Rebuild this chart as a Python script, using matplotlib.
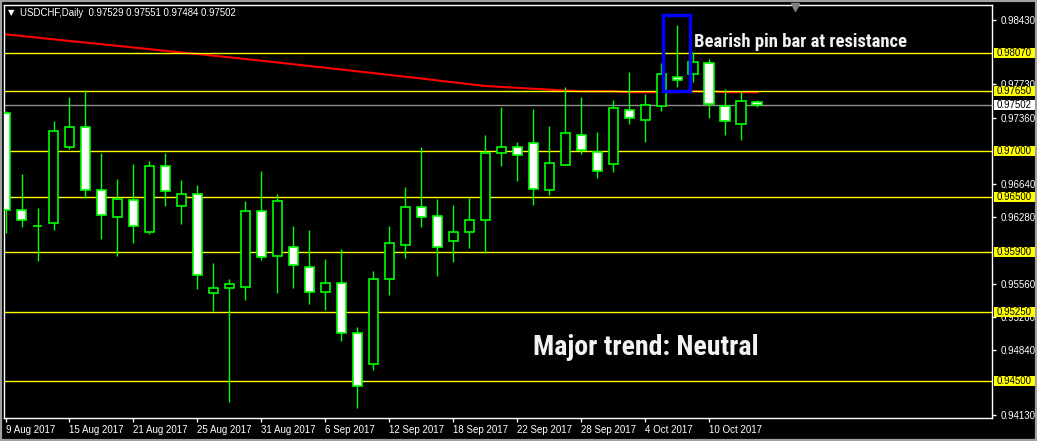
import matplotlib
matplotlib.use("Agg")
import matplotlib.pyplot as plt
from matplotlib import font_manager
from matplotlib.patches import Rectangle

# USDCHF daily bars, 9 Aug - 13 Oct 2017
opens = [0.97411, 0.96358, 0.96184, 0.96216, 0.97042, 0.97259, 0.96575, 0.96282, 0.96466, 0.96119,
         0.96836, 0.96401, 0.96531, 0.95456, 0.95511, 0.95530, 0.96347, 0.95858, 0.95956, 0.95739,
         0.95467, 0.95565, 0.95022, 0.94685, 0.95608, 0.95978, 0.96390, 0.96293, 0.96021, 0.96119,
         0.96249, 0.96977, 0.97042, 0.97085, 0.96575, 0.96846, 0.97172, 0.96988, 0.96857, 0.97444,
         0.97335, 0.97487, 0.97802, 0.97835, 0.97954, 0.97494, 0.97292, 0.97529]
highs = [0.97436, 0.96752, 0.96383, 0.97327, 0.97588, 0.97664, 0.96980, 0.96698, 0.96861, 0.96893,
         0.96980, 0.96687, 0.96629, 0.95785, 0.95612, 0.96459, 0.96784, 0.96535, 0.96187, 0.96144,
         0.95829, 0.95937, 0.95090, 0.95699, 0.96187, 0.96611, 0.97045, 0.96480, 0.96415, 0.96491,
         0.97175, 0.97480, 0.97099, 0.97458, 0.97273, 0.97697, 0.97588, 0.97208, 0.97556, 0.97860,
         0.97621, 0.97961, 0.98370, 0.98074, 0.97998, 0.97672, 0.97650, 0.97551]
lows = [0.96114, 0.96180, 0.95810, 0.96147, 0.97020, 0.96488, 0.96049, 0.95865, 0.96006, 0.96104,
        0.96408, 0.96206, 0.95500, 0.95267, 0.94279, 0.95389, 0.95821, 0.95463, 0.95517, 0.95343,
        0.95278, 0.94942, 0.94214, 0.94627, 0.95441, 0.95843, 0.96180, 0.95647, 0.95800, 0.95952,
        0.95891, 0.96842, 0.96679, 0.96418, 0.96527, 0.96846, 0.96972, 0.96705, 0.96770, 0.97292,
        0.97096, 0.97433, 0.97700, 0.97748, 0.97357, 0.97172, 0.97118, 0.97484]
closes = [0.96361, 0.96249, 0.96184, 0.97216, 0.97259, 0.96575, 0.96303, 0.96477, 0.96184, 0.96836,
          0.96564, 0.96531, 0.95652, 0.95511, 0.95554, 0.96347, 0.95847, 0.96455, 0.95760, 0.95467,
          0.95565, 0.95022, 0.94446, 0.95608, 0.95999, 0.96390, 0.96282, 0.95956, 0.96119, 0.96249,
          0.96977, 0.97042, 0.96955, 0.96586, 0.96868, 0.97194, 0.97009, 0.96781, 0.97465, 0.97357,
          0.97498, 0.97835, 0.97770, 0.97965, 0.97509, 0.97324, 0.97541, 0.97502]
ma = [0.98269, 0.98251, 0.98233, 0.98215, 0.98197, 0.98180, 0.98162, 0.98144, 0.98126, 0.98108,
      0.98090, 0.98072, 0.98055, 0.98037, 0.98019, 0.98001, 0.97982, 0.97963, 0.97944, 0.97925,
      0.97906, 0.97887, 0.97867, 0.97848, 0.97828, 0.97808, 0.97789, 0.97768, 0.97748, 0.97728,
      0.97708, 0.97698, 0.97688, 0.97678, 0.97668, 0.97659, 0.97650, 0.97650, 0.97650, 0.97640,
      0.97640, 0.97640, 0.97640, 0.97650, 0.97650, 0.97640, 0.97640, 0.97640]

levels = [0.98070, 0.97650, 0.97000, 0.96500, 0.95900, 0.95250, 0.94500]
bid = 0.97502
price_ticks = [0.98430, 0.97730, 0.97360, 0.96640, 0.96280, 0.95560, 0.95200, 0.94840, 0.94130]
date_bars = [0, 4, 8, 12, 16, 20, 24, 28, 32, 36, 40, 44]
date_labels = ["9 Aug 2017", "15 Aug 2017", "21 Aug 2017", "25 Aug 2017", "31 Aug 2017", "6 Sep 2017",
               "12 Sep 2017", "18 Sep 2017", "22 Sep 2017", "28 Sep 2017", "4 Oct 2017", "10 Oct 2017"]
pin_box = (41.08, 42.8, 0.97650, 0.98475)

W, H = 1037, 441
fig = plt.figure(figsize=(W / 100, H / 100), dpi=100, facecolor="black")
ax = fig.add_axes([4 / W, (H - 418.3) / H, 988 / W, 413.8 / H], facecolor="black")

lime = "#00ff00"
installed = {f.name for f in font_manager.fontManager.ttflist}
narrow = "Liberation Sans"
for name in ["Liberation Sans Narrow", "Roboto Condensed", "Open Sans Condensed", "DejaVu Sans Condensed"]:
    if name in installed:
        narrow = name
        break

ax.plot(range(len(ma)), ma, color="#ff0000", lw=1.5, zorder=1)
for lv in levels:
    ax.axhline(lv, color="#ffff00", lw=1, zorder=2)
ax.axhline(bid, color="#909090", lw=1, zorder=2)

for i in range(len(opens)):
    o, h, l, c = opens[i], highs[i], lows[i], closes[i]
    ax.vlines(i, l, h, color=lime, lw=1, zorder=3)
    fill = "white" if c < o else "black"
    ax.add_patch(Rectangle((i - 0.31, min(o, c)), 0.62, abs(c - o), facecolor=fill,
                           edgecolor=lime, lw=1.2, zorder=4))

x0, x1, y0, y1 = pin_box
ax.add_patch(Rectangle((x0, y0), x1 - x0, y1 - y0, fill=False, edgecolor="#0000ff", lw=2.5, zorder=5))

t1 = ax.text(43.03, 0.98128, "Bearish pin bar at resistance", color="#f2f2f2", fontsize=13.5,
             fontweight="bold", family=narrow, va="baseline", ha="left", zorder=6)
t2 = ax.text(32.97, 0.94786, "Major trend: Neutral", color="#f2f2f2", fontsize=20,
             fontweight="bold", family=narrow, va="baseline", ha="left", zorder=6)

ax.set_xlim(-0.094, 61.66)
ax.set_ylim(0.94099, 0.98593)

for s in ax.spines.values():
    s.set_color("white")
    s.set_linewidth(1)

ax.yaxis.tick_right()
ax.set_yticks(price_ticks)
ax.set_yticklabels(["%.5f" % p for p in price_ticks])
ax.set_xticks(date_bars)
ax.set_xticklabels(date_labels)
ax.tick_params(colors="white", length=3, width=1, labelsize=7, pad=3)
ax.tick_params(axis="x", pad=1.5)
for lab in ax.get_xticklabels() + ax.get_yticklabels():
    lab.set_family("Liberation Sans")
for lab in ax.get_xticklabels():
    lab.set_ha("left")

# price labels on the right axis
trans = ax.get_yaxis_transform()
box_h = 0.00109
for lv in levels + [bid]:
    bg = "white" if lv == bid else "#ffff00"
    ax.add_patch(Rectangle((990 / 988, lv - box_h / 2), 46 / 988, box_h, transform=trans,
                           facecolor=bg, edgecolor="none", clip_on=False, zorder=10))
    ax.text(993 / 988, lv, "%.5f" % lv, transform=trans, color="black", fontsize=7,
            family="Liberation Sans", va="center", ha="left", zorder=11, clip_on=False)

# chart shift marker
ax.plot([(795 - 4) / 988], [1 - 2.5 / 413.8], marker="v", color="#808080", markersize=6,
        transform=ax.transAxes, clip_on=False, zorder=12)

fig.text(8 / W, 1 - 13 / H, "\u25bc", color="white", fontsize=6, va="center", ha="left",
         family="DejaVu Sans")
fig.text(20 / W, 1 - 13 / H, "USDCHF,Daily  0.97529 0.97551 0.97484 0.97502", color="white",
         fontsize=6.9, va="center", ha="left", family="Liberation Sans")

fig.patches.append(Rectangle((0, 0), 1, 1, transform=fig.transFigure, fill=False,
                             edgecolor="#a0a0a0", lw=3, figure=fig))

# narrow the annotation text toward the reference width
renderer = fig.canvas.get_renderer()
for t, target in [(t1, 214), (t2, 226)]:
    w = t.get_window_extent(renderer=renderer).width
    size = t.get_fontsize()
    t.set_fontsize(0.5 * (size + size * target / w))

fig.savefig("out.png", dpi=100, facecolor="black")
